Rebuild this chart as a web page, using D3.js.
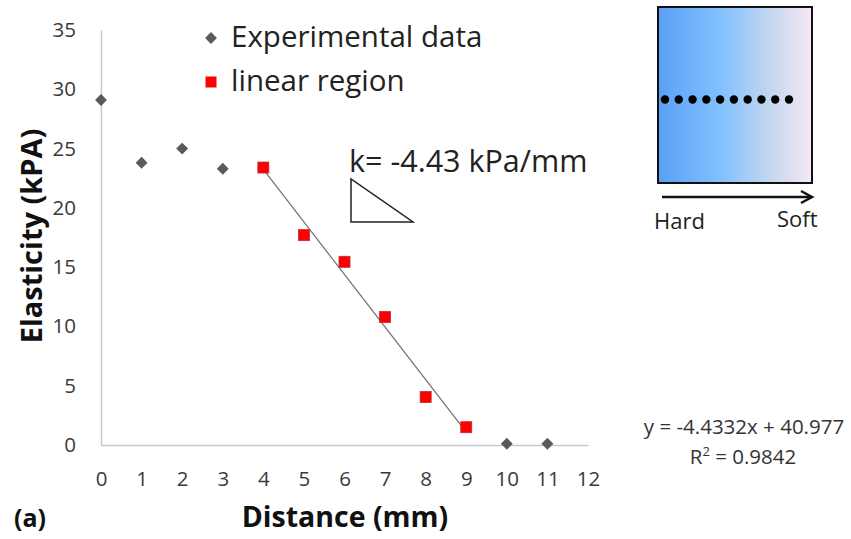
<!DOCTYPE html>
<html>
<head>
<meta charset="utf-8">
<script src="https://cdn.jsdelivr.net/npm/d3@7"></script>
<style>
  html, body { margin: 0; padding: 0; background: #fff; }
  svg { display: block; font-family: "Open Sans", Lato, sans-serif; }
</style>
</head>
<body>
<svg id="chart" width="851" height="539"></svg>
<script>
// Elasticity measured along the sample (mm -> kPa)
const distance = [0, 1, 2, 3, 4, 5, 6, 7, 8, 9, 10, 11];
const elasticity = [29.1, 23.8, 25.0, 23.3, 23.4, 17.7, 15.45, 10.8, 4.05, 1.5, 0.1, 0.1];
// Points that belong to the linear region
const linearDistance = [4, 5, 6, 7, 8, 9];
const linearElasticity = [23.4, 17.7, 15.45, 10.8, 4.05, 1.5];
// Linear fit over that region
const fitSlope = -4.4332;
const fitIntercept = 40.977;
const fitR2 = 0.9842;
const xTicks = [0, 1, 2, 3, 4, 5, 6, 7, 8, 9, 10, 11, 12];
const yTicks = [0, 5, 10, 15, 20, 25, 30, 35];

const svg = d3.select("#chart");
const x = d3.scaleLinear().domain([0, 12]).range([101, 588]);
const y = d3.scaleLinear().domain([0, 35]).range([445, 30]);

// Axes: light lines, no tick marks
const xAxis = svg.append("g").attr("transform", `translate(0,${y(0)})`)
  .call(d3.axisBottom(x).tickValues(xTicks).tickSize(0).tickPadding(26).tickFormat(d3.format("d")));
const yAxis = svg.append("g").attr("transform", `translate(${x(0)},0)`)
  .call(d3.axisLeft(y).tickValues(yTicks).tickSize(0).tickPadding(25).tickFormat(d3.format("d")));
[xAxis, yAxis].forEach(g => {
  g.select(".domain").attr("stroke", "#c8c8c8").attr("stroke-width", 1.5);
  g.selectAll("text").attr("fill", "#3a3a3a").style("font-size", "20.5px").style("font-family", "'Open Sans', sans-serif");
});

// Axis titles
svg.append("text").attr("x", 345).attr("y", 527).attr("text-anchor", "middle")
  .style("font-size", "28.5px").style("font-weight", "bold").attr("fill", "#111")
  .text("Distance (mm)");
svg.append("text").attr("transform", "translate(42,236) rotate(-90)").attr("text-anchor", "middle")
  .style("font-size", "29px").style("font-weight", "bold").attr("fill", "#111")
  .text("Elasticity (kPA)");
svg.append("text").attr("x", 14).attr("y", 527)
  .style("font-size", "25px").style("font-weight", "bold").attr("fill", "#111")
  .text("(a)");

// Trend line across the linear region
const fitX = [d3.min(linearDistance), d3.max(linearDistance)];
svg.append("line")
  .attr("x1", x(fitX[0])).attr("y1", y(fitSlope * fitX[0] + fitIntercept))
  .attr("x2", x(fitX[1])).attr("y2", y(fitSlope * fitX[1] + fitIntercept))
  .attr("stroke", "#6e6e6e").attr("stroke-width", 1.2);

// Experimental data (grey diamonds)
const diamond = d3.symbol().type(d3.symbolDiamond2).size(90);
svg.append("g").selectAll("path").data(distance.map((d, i) => [d, elasticity[i]]))
  .join("path")
  .attr("d", diamond)
  .attr("transform", d => `translate(${x(d[0])},${y(d[1])})`)
  .attr("fill", "#5a5a5a");

// Linear region (red squares)
svg.append("g").selectAll("rect").data(linearDistance.map((d, i) => [d, linearElasticity[i]]))
  .join("rect")
  .attr("x", d => x(d[0]) - 5.5).attr("y", d => y(d[1]) - 5.5)
  .attr("width", 11).attr("height", 11)
  .attr("fill", "#ff0000").attr("stroke", "#c03030").attr("stroke-width", 0.8);

// Legend
svg.append("path").attr("d", diamond).attr("transform", "translate(211,38)").attr("fill", "#5a5a5a");
svg.append("text").attr("x", 231).attr("y", 47).style("font-size", "29.5px").attr("fill", "#222").text("Experimental data");
svg.append("rect").attr("x", 205.5).attr("y", 76.5).attr("width", 11).attr("height", 11).attr("fill", "#ff0000");
svg.append("text").attr("x", 231).attr("y", 91).style("font-size", "29.5px").attr("fill", "#222").text("linear region");

// Slope annotation
svg.append("text").attr("x", 349).attr("y", 172).style("font-size", "30.5px").attr("fill", "#222")
  .text("k= -4.43 kPa/mm");
svg.append("path").attr("d", "M351,179 L351,222 L413,222 Z")
  .attr("fill", "none").attr("stroke", "#222").attr("stroke-width", 1.5);

// Fit equation
svg.append("text").attr("x", 744).attr("y", 434).attr("text-anchor", "middle")
  .style("font-size", "20.5px").attr("fill", "#333")
  .text(`y = ${fitSlope}x + ${fitIntercept}`);
const r2 = svg.append("text").attr("x", 743).attr("y", 464).attr("text-anchor", "middle")
  .style("font-size", "20.5px").attr("fill", "#333");
r2.append("tspan").text("R");
r2.append("tspan").attr("dy", -8).style("font-size", "13px").text("2");
r2.append("tspan").attr("dy", 8).text(` = ${fitR2}`);

// Sample sketch: stiffness gradient with measurement points
const defs = svg.append("defs");
const grad = defs.append("linearGradient").attr("id", "stiff").attr("x1", "0").attr("x2", "1").attr("y1", "0").attr("y2", "0");
grad.append("stop").attr("offset", "0%").attr("stop-color", "#5a9ff5");
grad.append("stop").attr("offset", "40%").attr("stop-color", "#80c0ff");
grad.append("stop").attr("offset", "75%").attr("stop-color", "#c8d8ee");
grad.append("stop").attr("offset", "100%").attr("stop-color", "#f8e8f4");
svg.append("rect").attr("x", 658).attr("y", 7).attr("width", 154).attr("height", 176)
  .attr("fill", "url(#stiff)").attr("stroke", "#111").attr("stroke-width", 2);
const dotX = d3.scaleLinear().domain([0, 9]).range([665, 789]);
svg.append("g").selectAll("circle").data(d3.range(10)).join("circle")
  .attr("cx", d => dotX(d)).attr("cy", 99.5).attr("r", 4.2).attr("fill", "#000");
svg.append("line").attr("x1", 662).attr("y1", 197).attr("x2", 810).attr("y2", 197)
  .attr("stroke", "#111").attr("stroke-width", 2.5);
svg.append("path").attr("d", "M801,191 L812,197 L801,203").attr("fill", "none").attr("stroke", "#111").attr("stroke-width", 2.5);
svg.append("text").attr("x", 654).attr("y", 229).style("font-size", "22px").attr("fill", "#222").text("Hard");
svg.append("text").attr("x", 777).attr("y", 227).style("font-size", "22px").attr("fill", "#222").text("Soft");
</script>
</body>
</html>
